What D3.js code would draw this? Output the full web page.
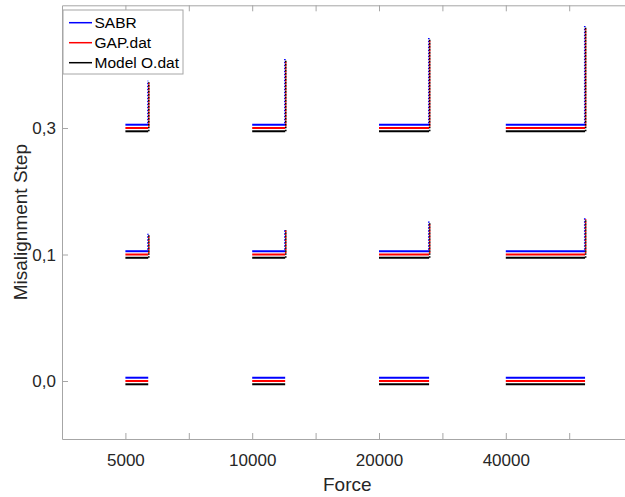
<!DOCTYPE html>
<html>
<head>
<meta charset="utf-8">
<script src="https://cdn.jsdelivr.net/npm/d3@7"></script>
<style>
  html, body { margin: 0; padding: 0; background: #fff; }
  svg { display: block; font-family: "Liberation Sans", Arial, Helvetica, sans-serif; }
</style>
</head>
<body>
<svg id="chart" width="625" height="497"></svg>
<script>
// ---------- data ----------
const forces = ["5000", "10000", "20000", "40000"];          // categories (x)
const forcePos = [1, 3, 5, 7];                               // category index on x axis
const xTickValues = [1, 2, 3, 4, 5, 6, 7, 8];
const xTickLabels = ["5000", "", "10000", "", "20000", "", "40000", ""];
const stepLabels = ["0,0", "0,1", "0,3"];                    // y categories
const stepPos = [0, 1, 2];
// horizontal extent of each force's segment (x index units)
const segmentWidth = [0.36, 0.52, 0.79, 1.25];
// vertical rise at the end of the segment, per step level, per force
const riseLevel0 = [0, 0, 0, 0];
const riseLevel1 = [0.164, 0.203, 0.26, 0.29];
const riseLevel2 = [0.374, 0.545, 0.711, 0.806];
const rises = [riseLevel0, riseLevel1, riseLevel2];
const seriesNames = ["SABR", "GAP.dat", "Model O.dat"];
const seriesShift = [0.026, 0.0, -0.026];                    // small vertical separation of the series
const seriesColors = ["#0000ff", "#ff0000", "#000000"];

// ---------- layout ----------
const svg = d3.select("#chart");
const x = d3.scaleLinear().domain([0, 9]).range([62, 632.6]);
const y = d3.scaleLinear().domain([-0.4585, 2.97]).range([439, 5.3]);
const axisColor = "#a6a6a6";
const textColor = "#262626";

// ---------- axes ----------
const gx = svg.append("g").attr("transform", `translate(0,${y.range()[0]})`)
  .call(d3.axisBottom(x).tickValues(xTickValues)
    .tickFormat((d, i) => xTickLabels[i]).tickSizeInner(-6).tickSizeOuter(0).tickPadding(0));
gx.selectAll("text").attr("dy", null).attr("y", 27).attr("font-size", 17).attr("fill", textColor);

const gxt = svg.append("g").attr("transform", `translate(0,${y.range()[1]})`)
  .call(d3.axisTop(x).tickValues(xTickValues).tickFormat("").tickSizeInner(-6).tickSizeOuter(0));
gxt.selectAll("text").remove();

const gy = svg.append("g").attr("transform", `translate(${x.range()[0]},0)`)
  .call(d3.axisLeft(y).tickValues(stepPos).tickFormat((d, i) => stepLabels[i])
    .tickSizeInner(-6).tickSizeOuter(0).tickPadding(6));
gy.selectAll("text").attr("font-size", 17).attr("fill", textColor).attr("dy", "0.35em");

const gyr = svg.append("g").attr("transform", `translate(${x.range()[1]},0)`)
  .call(d3.axisRight(y).tickValues(stepPos).tickFormat("").tickSizeInner(-6).tickSizeOuter(0));

svg.selectAll(".domain, .tick line").attr("stroke", axisColor).attr("stroke-width", 1);

// axis titles
svg.append("text").attr("x", (x.range()[0] + x.range()[1]) / 2).attr("y", 491)
  .attr("text-anchor", "middle").attr("font-size", 19).attr("fill", textColor).text("Force");
svg.append("text").attr("transform", `translate(26.5,${(y.range()[0] + y.range()[1]) / 2}) rotate(-90)`)
  .attr("text-anchor", "middle").attr("font-size", 19).attr("fill", textColor).text("Misalignment Step");

// ---------- marks ----------
const marks = svg.append("g");
seriesNames.forEach((name, s) => {
  stepPos.forEach((lvl, li) => {
    forces.forEach((f, fi) => {
      const x0 = forcePos[fi];
      const x1 = forcePos[fi] + segmentWidth[fi];
      const yv = lvl + seriesShift[s];
      marks.append("line")
        .attr("x1", x(x0)).attr("x2", x(x1))
        .attr("y1", y(yv)).attr("y2", y(yv))
        .attr("stroke", seriesColors[s]).attr("stroke-width", 2);
    });
  });
});
// vertical dotted rises (blue first, black last on top)
[0, 1, 2].forEach(s => {
  stepPos.forEach((lvl, li) => {
    forces.forEach((f, fi) => {
      const r = rises[li][fi];
      if (r <= 0) return;
      const x1 = forcePos[fi] + segmentWidth[fi];
      const yv = lvl + seriesShift[s];
      const xo = s === 0 ? -0.3 : 0.6;
      marks.append("line")
        .attr("x1", x(x1) + xo).attr("x2", x(x1) + xo)
        .attr("y1", y(yv)).attr("y2", y(lvl + r - (s === 0 ? 0 : 0.012)))
        .attr("stroke", seriesColors[s]).attr("stroke-width", 1.6)
        .attr("stroke-dasharray", "1.5 1.5")
        .attr("stroke-dashoffset", s === 2 ? 0 : 1.5);
    });
  });
});

// ---------- legend ----------
const lg = svg.append("g");
lg.append("rect").attr("x", 63).attr("y", 10).attr("width", 120).attr("height", 64)
  .attr("fill", "#fff").attr("stroke", axisColor).attr("stroke-width", 1);
seriesNames.forEach((name, i) => {
  const ly = 22.7 + i * 20;
  lg.append("line").attr("x1", 69).attr("x2", 92).attr("y1", ly).attr("y2", ly)
    .attr("stroke", seriesColors[i]).attr("stroke-width", 1.5);
  lg.append("text").attr("x", 94.5).attr("y", ly + 5.5).attr("font-size", 15.5)
    .attr("fill", "#000").text(name);
});
</script>
</body>
</html>
